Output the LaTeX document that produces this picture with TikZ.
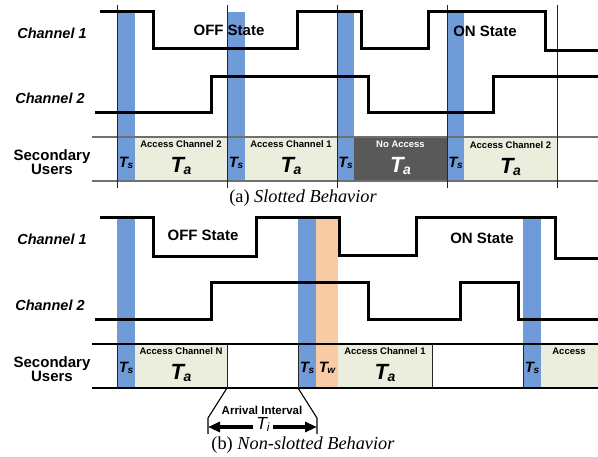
\documentclass[tikz,border=0pt]{standalone}
\usepackage{fontspec}
\setmainfont{Liberation Sans}
\newfontfamily\capfont{Liberation Serif}
\usetikzlibrary{arrows.meta}
\definecolor{bluebar}{HTML}{6F9BD8}
\definecolor{cellgreen}{HTML}{EBEEDD}
\definecolor{darkcell}{HTML}{595959}
\definecolor{peach}{HTML}{F9CBA5}
\definecolor{rowgray}{HTML}{707070}
\newcommand{\fsz}[1]{\fontsize{#1}{#1}\selectfont}
\newcommand{\Tbig}[1]{{\fsz{22}\bfseries\itshape T\kern-0.5pt\raisebox{-2pt}{\fsz{14}#1}}}
\newcommand{\Tsm}[1]{{\fsz{15}\bfseries\itshape T\kern-0.5pt\raisebox{-1.5pt}{\fsz{10}#1}}}
\begin{document}
\begin{tikzpicture}[x=1pt,y=-1pt,
  wave/.style={line width=3pt, line join=miter},
  slotline/.style={line width=0.9pt, black!85},
  rowline/.style={line width=1.1pt},
  chlabel/.style={font=\fsz{14.5}\bfseries\itshape, inner sep=0pt},
  sulabel/.style={font=\fsz{15}\bfseries, align=center, inner sep=0pt},
  statelabel/.style={font=\fsz{15}\bfseries, inner sep=0pt},
  acclabel/.style={font=\fsz{9.5}\bfseries, inner sep=0pt},
  caplabel/.style={font=\fsz{18.3}\capfont, inner sep=0pt},
  bigarrow/.style={line width=3.5pt, arrows={-Triangle[length=12pt,width=10pt]}},
  bracket/.style={line width=1.1pt}]
\useasboundingbox (0,0) rectangle (598,457);

% ================= (a) slotted =================
\fill[cellgreen] (135,137) rectangle (227,181);
\fill[cellgreen] (245,137) rectangle (337,181);
\fill[darkcell] (354,137) rectangle (447,181);
\fill[cellgreen] (464,137) rectangle (557,181);
\foreach \xa/\xb in {117/135,227/245,337/354,447/464}
  \fill[bluebar] (\xa,12) rectangle (\xb,181);
\draw[rowline, rowgray] (92,137) -- (598,137);
\draw[rowline, rowgray] (92,181) -- (598,181);
\foreach \xx in {117,227,337,447,557}
  \draw[slotline] (\xx,5) -- (\xx,188);

\draw[wave] (100,12) -| (153,49) -| (297,12) -| (361,49) -| (428,12) -| (545,51) -- (598,51);
\draw[wave] (95,113) -| (211,77) -| (368,113) -| (493,77) -- (598,77);

\node[chlabel] (a-ch1) at (52,33) {Channel 1};
\node[chlabel] (a-ch2) at (50,98) {Channel 2};
\node[sulabel] (a-su) at (52,162) {Secondary\\[-1pt]Users};
\node[statelabel] (a-off) at (229,30) {OFF State};
\node[statelabel] (a-on) at (485,31) {ON State};

\foreach \cx/\nm in {126/1,236/2,345.5/3,455.5/4}
  \node[inner sep=0pt] (a-ts\nm) at (\cx,163) {\Tsm{s}};
\node[acclabel] (a-acc1) at (181,144) {Access Channel 2};
\node[inner sep=0pt] (a-ta1) at (181,166) {\Tbig{a}};
\node[acclabel] (a-acc2) at (291,144) {Access Channel 1};
\node[inner sep=0pt] (a-ta2) at (291,166) {\Tbig{a}};
\node[acclabel, text=white] (a-acc3) at (400.5,144) {No Access};
\node[inner sep=0pt, text=white] (a-ta3) at (400.5,166) {\Tbig{a}};
\node[acclabel] (a-acc4) at (510.5,145) {Access Channel 2};
\node[inner sep=0pt] (a-ta4) at (510.5,167) {\Tbig{a}};

\node[caplabel] (a-cap) at (303,198) {(a) \textit{Slotted Behavior}};

% ================= (b) non-slotted =================
\fill[cellgreen] (135,344) rectangle (227,388);
\fill[cellgreen] (338,344) rectangle (432,388);
\fill[cellgreen] (541,344) rectangle (598,388);
\foreach \xa/\xb in {117/135,298/316,523/541}
  \fill[bluebar] (\xa,218) rectangle (\xb,388);
\fill[peach] (316,218) rectangle (338,388);
\draw[rowline] (92,344) -- (598,344);
\draw[rowline] (92,388) -- (598,388);
\foreach \xx in {117,227,298,432,523}
  \draw[slotline] (\xx,344) -- (\xx,388);

\draw[wave] (100,218) -| (153,257) -| (256,218) -| (339,256) -| (416,218) -| (555,259) -- (598,259);
\draw[wave] (95,320) -| (211,283) -| (368,320) -| (460,283) -| (518,320) -- (598,320);

\node[chlabel] (b-ch1) at (52,239) {Channel 1};
\node[chlabel] (b-ch2) at (50,305) {Channel 2};
\node[sulabel] (b-su) at (52,369) {Secondary\\[-1pt]Users};
\node[statelabel] (b-off) at (203,235) {OFF State};
\node[statelabel] (b-on) at (482,238) {ON State};

\node[inner sep=0pt] (b-ts1) at (126,368) {\Tsm{s}};
\node[inner sep=0pt] (b-ts2) at (307,368) {\Tsm{s}};
\node[inner sep=0pt] (b-tw) at (327,368) {\Tsm{w}};
\node[inner sep=0pt] (b-ts3) at (532,368) {\Tsm{s}};
\node[acclabel] (b-acc1) at (181,351) {Access Channel N};
\node[inner sep=0pt] (b-ta1) at (181,373) {\Tbig{a}};
\node[acclabel] (b-acc2) at (385,351) {Access Channel 1};
\node[inner sep=0pt] (b-ta2) at (385,373) {\Tbig{a}};
\node[acclabel] (b-acc3) at (569,351) {Access};

% arrival interval
\coordinate (l0) at (227,388);
\coordinate (l1) at (208,418);
\coordinate (l2) at (208,434);
\coordinate (r0) at (298,388);
\coordinate (r1) at (317,418);
\coordinate (r2) at (317,434);
\draw[bracket] (l0) -- (l1) -- (l2);
\draw[bracket] (r0) -- (r1) -- (r2);
\node[font=\fsz{11.5}\bfseries, inner sep=0pt] (b-arr) at (262,410) {Arrival Interval};
\node[inner sep=0pt, anchor=base] (b-ti) at (263,430) {{\fsz{17.5}\itshape T\kern-0.3pt\raisebox{-1.5pt}{\fsz{12}i}}};
\coordinate (al) at (208,427);
\coordinate (ar) at (317,427);
\draw[bigarrow] ([xshift=-3pt]b-ti.west |- al) -- (al);
\draw[bigarrow] ([xshift=3pt]b-ti.east |- ar) -- (ar);

\node[caplabel] (b-cap) at (303,445) {(b) \textit{Non-slotted Behavior}};
\end{tikzpicture}
\end{document}
